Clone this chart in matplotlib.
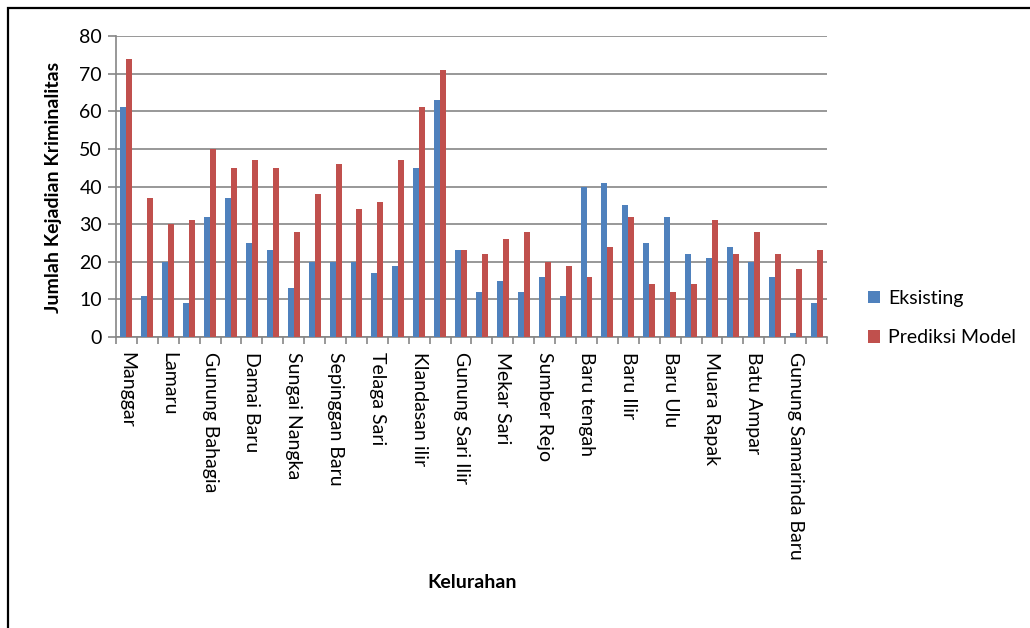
import matplotlib
matplotlib.use("Agg")
import matplotlib.pyplot as plt
import numpy as np
from matplotlib.patches import Rectangle

# every other category name is shown on the axis (Excel skips the rest)
shown_labels = [
    "Manggar", "Lamaru", "Gunung Bahagia", "Damai Baru", "Sungai Nangka",
    "Sepinggan Baru", "Telaga Sari", "Klandasan ilir", "Gunung Sari Ilir",
    "Mekar Sari", "Sumber Rejo", "Baru tengah", "Baru Ilir", "Baru Ulu",
    "Muara Rapak", "Batu Ampar", "Gunung Samarinda Baru",
]
eksisting = [61, 11, 20, 9, 32, 37, 25, 23, 13, 20, 20, 20, 17, 19, 45, 63, 23,
             12, 15, 12, 16, 11, 40, 41, 35, 25, 32, 22, 21, 24, 20, 16, 1, 9]
prediksi = [74, 37, 30, 31, 50, 45, 47, 45, 28, 38, 46, 34, 36, 47, 61, 71, 23,
            22, 26, 28, 20, 19, 16, 24, 32, 14, 12, 14, 31, 22, 28, 22, 18, 23]

plt.rcParams["font.family"] = ["Lato", "DejaVu Sans"]

BLUE = "#4F81BD"
RED = "#C0504D"
GREY = "#868686"
FS = 14

W, H = 1030, 628
fig = plt.figure(figsize=(W / 100, H / 100), dpi=100)
ax = fig.add_axes([116 / W, 1 - 337 / H, (827 - 116) / W, (337 - 36) / H])

n = len(eksisting)
x = np.arange(n)
bw = 1 / 3.5
ax.bar(x - bw / 2, eksisting, bw, color=BLUE, label="Eksisting", zorder=3)
ax.bar(x + bw / 2, prediksi, bw, color=RED, label="Prediksi Model", zorder=3)

ax.set_xlim(-0.5, n - 0.5)
ax.set_ylim(0, 80)
ax.set_yticks(np.arange(0, 81, 10))
ax.yaxis.grid(True, color=GREY, linewidth=1.2, zorder=0)
ax.set_axisbelow(True)

# category boundaries get the tick marks, labels sit on every other category
ax.set_xticks(np.arange(-0.5, n, 1.0))
ax.set_xticklabels([])
ax.set_xticks(x[::2], minor=True)
ax.set_xticklabels(shown_labels, minor=True, rotation=270, fontsize=FS,
                   va="top", ha="center")
ax.tick_params(axis="x", which="major", length=5, width=1.2, color=GREY)
ax.tick_params(axis="x", which="minor", length=0, pad=11)
ax.tick_params(axis="y", length=6, width=1.2, color=GREY, labelsize=FS, pad=4)

for side in ("top", "right"):
    ax.spines[side].set_visible(False)
for side in ("left", "bottom"):
    ax.spines[side].set_color(GREY)
    ax.spines[side].set_linewidth(1.2)

fig.text(54 / W, 1 - 187 / H, "Jumlah Kejadian Kriminalitas", rotation=90,
         ha="center", va="center", fontsize=FS, fontweight="bold")
fig.text(472 / W, 1 - 583 / H, "Kelurahan", ha="center", va="center",
         fontsize=FS, fontweight="bold")

fig.legend(loc="center left", bbox_to_anchor=(868 / W, 1 - 318 / H),
           frameon=False, fontsize=FS, handlelength=0.62, handleheight=0.62,
           handletextpad=0.4, labelspacing=1.15, borderpad=0, borderaxespad=0)

fig.patches.append(Rectangle((7.5 / W, -0.5), 2, 1.5 - 7.5 / H,
                             transform=fig.transFigure, fill=False,
                             edgecolor="black", linewidth=1.6))

fig.savefig("out.png", dpi=100)
